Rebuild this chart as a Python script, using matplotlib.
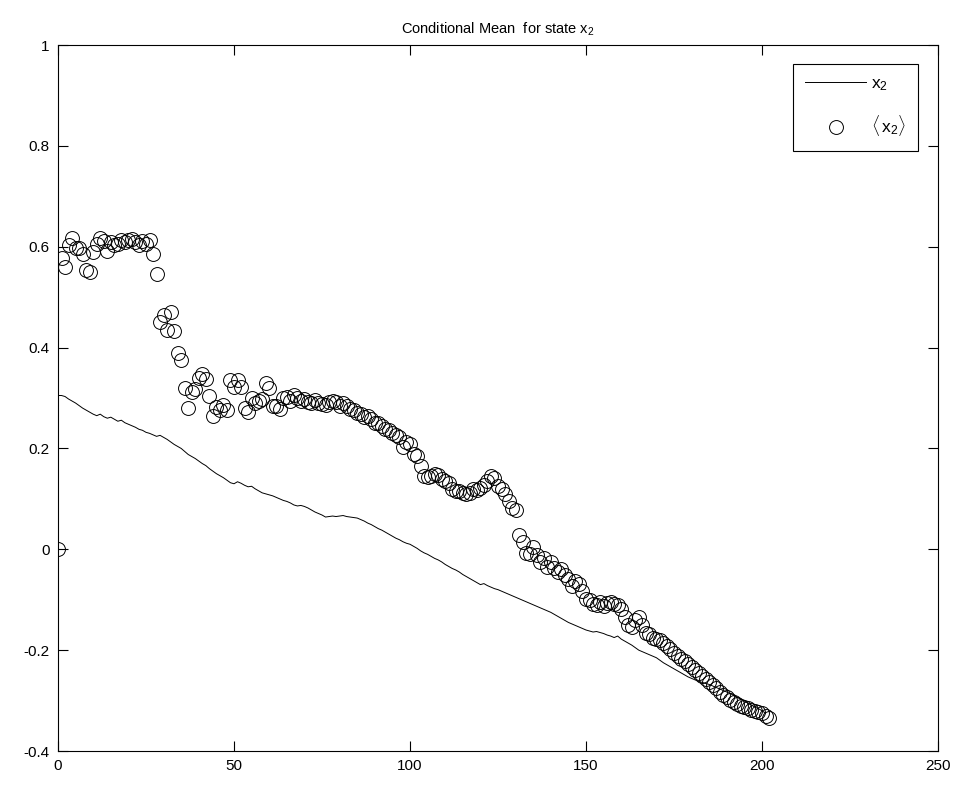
import matplotlib
matplotlib.use("Agg")
import matplotlib.pyplot as plt

# true state x_2 (line), sampled at steps 0..201
state_x2 = [
    0.305,
    0.305, 0.303, 0.298, 0.294, 0.290, 0.285, 0.280, 0.276, 0.272, 0.268,
    0.265, 0.268, 0.263, 0.260, 0.262, 0.258, 0.254, 0.256, 0.251, 0.248,
    0.245, 0.242, 0.238, 0.236, 0.232, 0.230, 0.227, 0.224, 0.226, 0.222,
    0.218, 0.213, 0.208, 0.204, 0.200, 0.194, 0.188, 0.184, 0.180, 0.175,
    0.170, 0.166, 0.160, 0.155, 0.150, 0.146, 0.142, 0.137, 0.132, 0.130,
    0.134, 0.131, 0.127, 0.124, 0.125, 0.120, 0.116, 0.112, 0.110, 0.108,
    0.106, 0.103, 0.100, 0.097, 0.095, 0.092, 0.088, 0.086, 0.087, 0.085,
    0.082, 0.078, 0.074, 0.071, 0.068, 0.064, 0.065, 0.066, 0.065, 0.066,
    0.067, 0.065, 0.064, 0.063, 0.062, 0.059, 0.056, 0.052, 0.049, 0.045,
    0.041, 0.038, 0.034, 0.030, 0.026, 0.022, 0.019, 0.015, 0.012, 0.010,
    0.006, 0.002, -0.003, -0.007, -0.010, -0.014, -0.018, -0.021, -0.025, -0.030,
    -0.034, -0.038, -0.041, -0.045, -0.050, -0.054, -0.058, -0.062, -0.066, -0.070,
    -0.068, -0.072, -0.075, -0.078, -0.080, -0.083, -0.086, -0.089, -0.092, -0.095,
    -0.098, -0.101, -0.104, -0.107, -0.110, -0.113, -0.116, -0.119, -0.122, -0.125,
    -0.129, -0.133, -0.137, -0.141, -0.145, -0.148, -0.151, -0.154, -0.157, -0.160,
    -0.162, -0.164, -0.163, -0.165, -0.167, -0.170, -0.172, -0.175, -0.172, -0.178,
    -0.182, -0.186, -0.190, -0.195, -0.200, -0.203, -0.206, -0.209, -0.212, -0.215,
    -0.220, -0.225, -0.229, -0.233, -0.237, -0.241, -0.245, -0.249, -0.253, -0.256,
    -0.259, -0.262, -0.264, -0.266, -0.268, -0.271, -0.274, -0.277, -0.280, -0.283,
    -0.286, -0.290, -0.294, -0.297, -0.301, -0.305, -0.309, -0.313, -0.316, -0.320,
    -0.325,
]

# conditional mean <x_2> (circles), steps 0..202
cond_mean = [
    0.0,
    0.578, 0.560, 0.603, 0.618, 0.598, 0.598, 0.585, 0.553, 0.550, 0.590,
    0.606, 0.618, 0.612, 0.592, 0.610, 0.604, 0.606, 0.614, 0.610, 0.613,
    0.616, 0.610, 0.604, 0.612, 0.606, 0.614, 0.586, 0.545, 0.450, 0.465,
    0.435, 0.470, 0.433, 0.390, 0.375, 0.320, 0.280, 0.312, 0.318, 0.340,
    0.348, 0.338, 0.305, 0.265, 0.282, 0.276, 0.287, 0.276, 0.335, 0.322,
    0.336, 0.322, 0.280, 0.273, 0.300, 0.290, 0.295, 0.298, 0.330, 0.320,
    0.285, 0.285, 0.278, 0.300, 0.302, 0.295, 0.306, 0.300, 0.295, 0.298,
    0.292, 0.290, 0.296, 0.290, 0.288, 0.286, 0.292, 0.294, 0.292, 0.284,
    0.290, 0.284, 0.278, 0.276, 0.270, 0.268, 0.262, 0.265, 0.258, 0.250,
    0.250, 0.244, 0.238, 0.236, 0.230, 0.226, 0.222, 0.202, 0.212, 0.208,
    0.190, 0.185, 0.165, 0.145, 0.143, 0.146, 0.150, 0.148, 0.140, 0.136,
    0.132, 0.120, 0.116, 0.115, 0.112, 0.110, 0.112, 0.120, 0.118, 0.122,
    0.128, 0.136, 0.145, 0.142, 0.125, 0.120, 0.110, 0.095, 0.082, 0.078,
    0.028, 0.015, -0.008, -0.010, 0.005, -0.012, -0.025, -0.018, -0.035, -0.025,
    -0.038, -0.045, -0.040, -0.050, -0.058, -0.072, -0.062, -0.068, -0.082, -0.098,
    -0.100, -0.108, -0.110, -0.104, -0.112, -0.106, -0.104, -0.108, -0.110, -0.118,
    -0.135, -0.150, -0.155, -0.140, -0.135, -0.150, -0.165, -0.168, -0.175, -0.178,
    -0.180, -0.186, -0.192, -0.198, -0.205, -0.212, -0.218, -0.222, -0.228, -0.234,
    -0.240, -0.246, -0.252, -0.258, -0.264, -0.270, -0.276, -0.282, -0.288, -0.293,
    -0.298, -0.302, -0.306, -0.310, -0.312, -0.315, -0.318, -0.320, -0.323, -0.325,
    -0.330, -0.335,
]

x_ticks = [0, 50, 100, 150, 200, 250]
y_ticks = [-0.4, -0.2, 0, 0.2, 0.4, 0.6, 0.8, 1]
y_tick_labels = ["-0.4", "-0.2", "0", "0.2", "0.4", "0.6", "0.8", "1"]

plt.rcParams['font.family'] = ['Liberation Sans', 'DejaVu Sans']
plt.rcParams['mathtext.fontset'] = 'custom'
plt.rcParams['mathtext.rm'] = 'Liberation Sans'
plt.rcParams['mathtext.it'] = 'Liberation Sans'

fig = plt.figure(figsize=(9.7, 7.86), dpi=100)
ax = fig.add_axes([0.0598, 0.0445, 0.9072, 0.8982])

ax.plot(range(len(state_x2)), state_x2, color='black', linewidth=0.7,
        label=r'$\mathrm{x_2}$')
ax.plot(range(len(cond_mean)), cond_mean, linestyle='none', marker='o',
        markersize=10, markerfacecolor='none', markeredgecolor='black',
        markeredgewidth=0.7, label=r'$\langle\,\mathrm{x_2}\rangle$')

ax.set_xlim(0, 250)
ax.set_ylim(-0.4, 1)
ax.set_xticks(x_ticks)
ax.set_yticks(y_ticks)
ax.set_yticklabels(y_tick_labels)
ax.tick_params(direction='in', top=True, right=True, length=7, width=0.8,
               labelsize=11, pad=6)
for s in ax.spines.values():
    s.set_linewidth(0.8)

ax.set_title(r'Conditional Mean  for state $\mathrm{x_2}$', fontsize=10.5, pad=8)

leg = ax.legend(loc='upper right', bbox_to_anchor=(0.987, 0.986),
                fontsize=12.5, fancybox=False, edgecolor='black',
                framealpha=1, handlelength=3.5, handletextpad=0.25,
                borderpad=0.7, labelspacing=1.2)
leg.get_frame().set_linewidth(0.8)

fig.savefig('out.png', dpi=100)
